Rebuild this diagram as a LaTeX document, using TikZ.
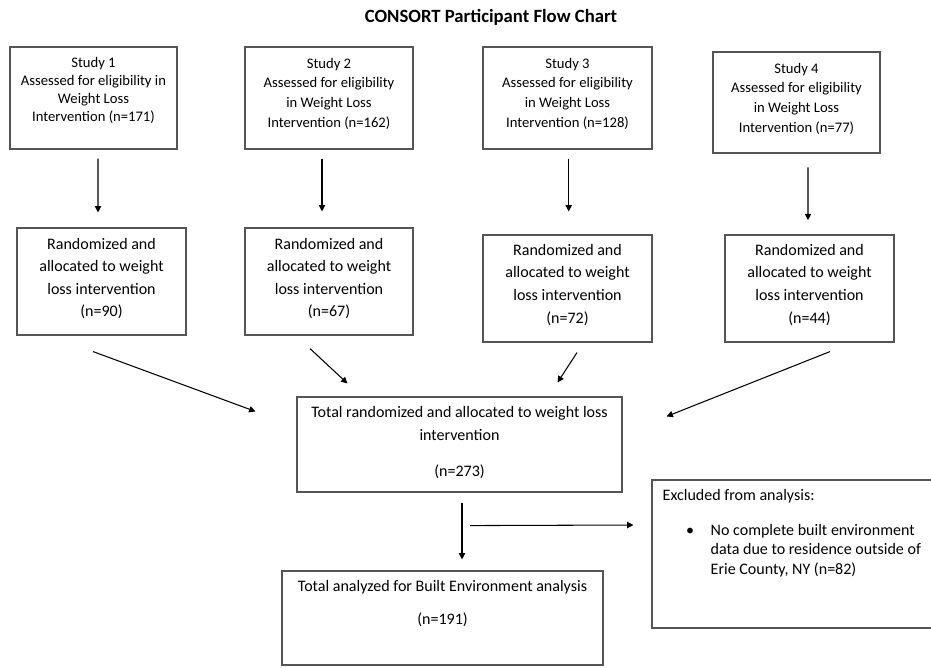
\documentclass[tikz,border=0pt]{standalone}
\usepackage{fontspec}
\setmainfont{Carlito}
\usetikzlibrary{
    arrows.meta
}
\definecolor{bordeCaja}{RGB}{85, 85, 85}
\definecolor{colorFlecha}{RGB}{0, 0, 0}
\newlength{\pxu}
\setlength{\pxu}{0.025cm}
% alto, ancho, primera linea base, interlineado, texto
\newcommand{\cajaTexto}[5]{%
    \parbox[c][#1\pxu][t]{#2\pxu}{\centering\setlength{\baselineskip}{#4\pxu}%
    \rule{0pt}{#3\pxu}#5}}
\tikzset{
    cajaEstudio/.style={
        rectangle, draw=bordeCaja, line width=0.8pt, inner sep=0pt,
        font=\fontsize{10.4pt}{13pt}\selectfont
    },
    cajaAleatorio/.style={
        rectangle, draw=bordeCaja, line width=0.8pt, inner sep=0pt,
        font=\fontsize{11.4pt}{16pt}\selectfont
    },
    cajaTotal/.style={
        rectangle, draw=bordeCaja, line width=0.8pt, inner sep=0pt,
        font=\fontsize{11.4pt}{16pt}\selectfont
    },
    titulo/.style={
        font=\fontsize{13.3pt}{16pt}\selectfont\bfseries
    },
    flecha/.style={
        -{Triangle[length=4.5pt,width=4.5pt]},
        line width=0.75pt, color=colorFlecha
    },
}
\begin{document}
\begin{tikzpicture}[x=0.025cm, y=-0.025cm]

    \useasboundingbox (0,0) rectangle (931,667);

    % ----------------------------------------------------------
    % TITULO
    % ----------------------------------------------------------
    \node[titulo] at (491, 17.5) (titulo) {CONSORT Participant Flow Chart};

    % ----------------------------------------------------------
    % ESTUDIOS (fila superior)
    % ----------------------------------------------------------
    \node[cajaEstudio] at ( 93.5,  98.0) (estudio1)
        {\cajaTexto{102}{167}{20.3}{18}{Study 1\\ Assessed for eligibility in\\ Weight Loss\\ Intervention (n=171)}};
    \node[cajaEstudio] at (329.0,  98.0) (estudio2)
        {\cajaTexto{102}{168}{21.3}{19.6}{Study 2\\ Assessed for eligibility\\ in Weight Loss\\ Intervention (n=162)}};
    \node[cajaEstudio] at (567.5,  98.0) (estudio3)
        {\cajaTexto{102}{169}{21.3}{19.6}{Study 3\\ Assessed for eligibility\\ in Weight Loss\\ Intervention (n=128)}};
    \node[cajaEstudio] at (796.5, 102.5) (estudio4)
        {\cajaTexto{101}{167}{21.3}{19.6}{Study 4\\ Assessed for eligibility\\ in Weight Loss\\ Intervention (n=77)}};

    % ----------------------------------------------------------
    % ALEATORIZADOS (segunda fila)
    % ----------------------------------------------------------
    \node[cajaAleatorio] at (101.5, 281.5) (aleatorio1)
        {\cajaTexto{107}{169}{21.3}{22.5}{Randomized and\\ allocated to weight\\ loss intervention\\ (n=90)}};
    \node[cajaAleatorio] at (329.0, 281.5) (aleatorio2)
        {\cajaTexto{107}{168}{21.3}{22.5}{Randomized and\\ allocated to weight\\ loss intervention\\ (n=67)}};
    \node[cajaAleatorio] at (567.5, 288.5) (aleatorio3)
        {\cajaTexto{107}{169}{20}{22.7}{Randomized and\\ allocated to weight\\ loss intervention\\ (n=72)}};
    \node[cajaAleatorio] at (809.5, 288.5) (aleatorio4)
        {\cajaTexto{107}{169}{20}{22.7}{Randomized and\\ allocated to weight\\ loss intervention\\ (n=44)}};

    % ----------------------------------------------------------
    % TOTALES Y EXCLUIDOS
    % ----------------------------------------------------------
    \node[cajaTotal] at (459.5, 444.5) (total)
        {\cajaTexto{95}{325}{20.3}{22.7}{Total randomized and allocated to weight loss\\ intervention\\[13.3\pxu] (n=273)}};
    \node[cajaTotal] at (442.5, 618.0) (analizados)
        {\cajaTexto{94}{321}{20.7}{32.7}{Total analyzed for Built Environment analysis\\ (n=191)}};
    \node[cajaTotal] at (794.5, 554.0) (excluidos)
        {\parbox[c][148\pxu][t]{285\pxu}{\raggedright\setlength{\baselineskip}{19.5\pxu}%
         \leftskip=10.7\pxu\rule{0pt}{20.7\pxu}Excluded from analysis:\par
         \vspace{14.8\pxu}\leftskip=58.7\pxu
         \noindent\llap{\makebox[0pt]{\textbullet}\hspace{20.7\pxu}}No complete built environment\\
         data due to residence outside of\\ Erie County, NY (n=82)\par}};

    % ----------------------------------------------------------
    % FLECHAS ESTUDIO -> ALEATORIZADO
    % ----------------------------------------------------------
    \draw[flecha] ([shift={(4.5,9)}]estudio1.south)  -- ([shift={(-3.5,-15)}]aleatorio1.north);
    \draw[flecha] ([shift={(-7,9)}]estudio2.south)   -- ([shift={(-7,-16)}]aleatorio2.north);
    \draw[flecha] ([shift={(1.2,9)}]estudio3.south)  -- ([shift={(1.2,-23)}]aleatorio3.north);
    \draw[flecha] ([shift={(11.5,13.7)}]estudio4.south) -- ([shift={(-1.5,-14.3)}]aleatorio4.north);

    % ----------------------------------------------------------
    % FLECHAS ALEATORIZADO -> TOTAL
    % ----------------------------------------------------------
    \draw[flecha] ([shift={(-8.5,16)}]aleatorio1.south) -- ([shift={(-41,15)}]total.north west);
    \draw[flecha] ([shift={(-19,13)}]aleatorio2.south)  -- ([shift={(51,-13)}]total.north west);
    \draw[flecha] ([shift={(9.5,10)}]aleatorio3.south)  -- ([shift={(-65,-14)}]total.north east);
    \draw[flecha] ([shift={(20.5,9)}]aleatorio4.south)  -- ([shift={(44,20)}]total.north east);

    % ----------------------------------------------------------
    % TOTAL -> ANALIZADOS / EXCLUIDOS
    % ----------------------------------------------------------
    \draw[flecha] ([shift={(2.5,10)}]total.south)  -- ([shift={(19.5,-11)}]analizados.north);
    \draw[flecha] ([shift={(10.5,33)}]total.south) -- ([shift={(-18,-29)}]excluidos.west);

\end{tikzpicture}
\end{document}
